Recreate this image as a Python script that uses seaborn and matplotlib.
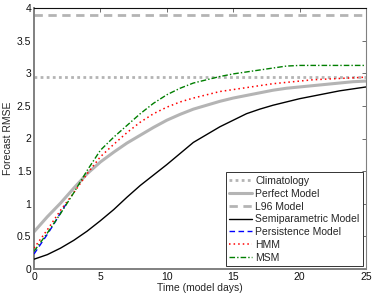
import matplotlib
matplotlib.use("Agg")
import matplotlib.pyplot as plt
import seaborn as sns
import numpy as np
import pandas as pd

# ---- data ----
days = [0, 1, 2, 3, 4, 5, 6, 7, 8, 9, 10, 11, 12, 13, 14, 15, 16, 17, 18, 19, 20, 21, 22, 23, 24, 25]
perfect = [0.57, 0.80, 1.01, 1.24, 1.46, 1.64, 1.79, 1.93, 2.05, 2.17, 2.28, 2.37, 2.45, 2.51, 2.57,
           2.62, 2.66, 2.70, 2.74, 2.77, 2.79, 2.81, 2.83, 2.85, 2.87, 2.88]
semiparam = [0.15, 0.22, 0.32, 0.44, 0.58, 0.74, 0.91, 1.10, 1.28, 1.44, 1.60, 1.77, 1.94, 2.06, 2.18,
             2.28, 2.38, 2.45, 2.51, 2.56, 2.61, 2.65, 2.69, 2.73, 2.76, 2.79]
hmm = [0.32, 0.60, 0.90, 1.17, 1.46, 1.72, 1.91, 2.09, 2.25, 2.38, 2.48, 2.56, 2.62, 2.67, 2.72,
       2.75, 2.78, 2.81, 2.84, 2.86, 2.88, 2.90, 2.91, 2.92, 2.93, 2.94]
msm = [0.27, 0.55, 0.85, 1.17, 1.51, 1.82, 2.02, 2.20, 2.38, 2.54, 2.67, 2.77, 2.85, 2.90, 2.95,
       2.99, 3.02, 3.05, 3.08, 3.11, 3.12, 3.12, 3.12, 3.12, 3.12, 3.12]
persist_days = [0, 0.5, 1.0, 1.5, 2.0, 2.4]
persistence = [0.23, 0.38, 0.53, 0.69, 0.86, 0.99]
climatology = 2.95
l96_model = 3.90

x_ticks = [0, 5, 10, 15, 20, 25]
y_ticks = [0, 0.5, 1, 1.5, 2, 2.5, 3, 3.5, 4]
y_tick_labels = ["0", "0.5", "1", "1.5", "2", "2.5", "3", "3.5", "4"]

# ---- style ----
sns.set_style("white")
plt.rcParams["font.family"] = ["Liberation Sans", "DejaVu Sans"]
plt.rcParams["font.size"] = 7.5

fig = plt.figure(figsize=(3.74, 2.96), dpi=100)
ax = fig.add_axes([34 / 374, 1 - 269 / 296, (366 - 34) / 374, (269 - 8) / 296])

gray = "#b4b4b4"
ax.axhline(climatology, color=gray, lw=2.0, ls=(0, (1, 1.2)), label="Climatology", zorder=2)
sns.lineplot(x=days, y=perfect, ax=ax, color=gray, lw=2.2, label="Perfect Model", zorder=2)
ax.axhline(l96_model, color=gray, lw=2.0, ls=(0, (3, 2)), label="L96 Model", zorder=2)
sns.lineplot(x=days, y=semiparam, ax=ax, color="black", lw=1.0, label="Semiparametric Model", zorder=3)
sns.lineplot(x=persist_days, y=persistence, ax=ax, color="#0000ff", lw=1.0, ls=(0, (4, 2.5)),
             label="Persistence Model", zorder=3)
sns.lineplot(x=days, y=hmm, ax=ax, color="#ff0000", lw=1.1, ls=(0, (1, 2)), label="HMM", zorder=3)
sns.lineplot(x=days, y=msm, ax=ax, color="#007f00", lw=1.0, ls=(0, (4, 1.5, 1, 1.5)), label="MSM", zorder=3)

ax.set_xlim(0, 25)
ax.set_ylim(0, 4)
ax.set_xticks(x_ticks)
ax.set_xticklabels([str(t) for t in x_ticks])
ax.set_yticks(y_ticks)
ax.set_yticklabels(y_tick_labels)
ax.tick_params(direction="in", length=3, width=0.6, top=True, right=True,
               labelsize=7.5, pad=2, colors="#555555", labelcolor="#111111")
ax.spines["left"].set_color("#808080")
ax.spines["left"].set_linewidth(1.4)
ax.spines["bottom"].set_color("#808080")
ax.spines["bottom"].set_linewidth(1.4)
ax.spines["top"].set_color("#111111")
ax.spines["top"].set_linewidth(0.8)
ax.spines["right"].set_color("#808080")
ax.spines["right"].set_linewidth(0.8)
ax.set_xlabel("Time (model days)", fontsize=7.5, labelpad=1)
ax.set_ylabel("Forecast RMSE", fontsize=7.5, labelpad=3)

leg = ax.legend(loc="lower right", fontsize=7.5, frameon=True, fancybox=False,
                handlelength=2.2, handletextpad=0.3, borderpad=0.35, labelspacing=0.27,
                borderaxespad=0.25)
leg.get_frame().set_edgecolor("#333333")
leg.get_frame().set_linewidth(0.7)
leg.get_frame().set_alpha(1.0)

fig.savefig("out.png", dpi=100)
